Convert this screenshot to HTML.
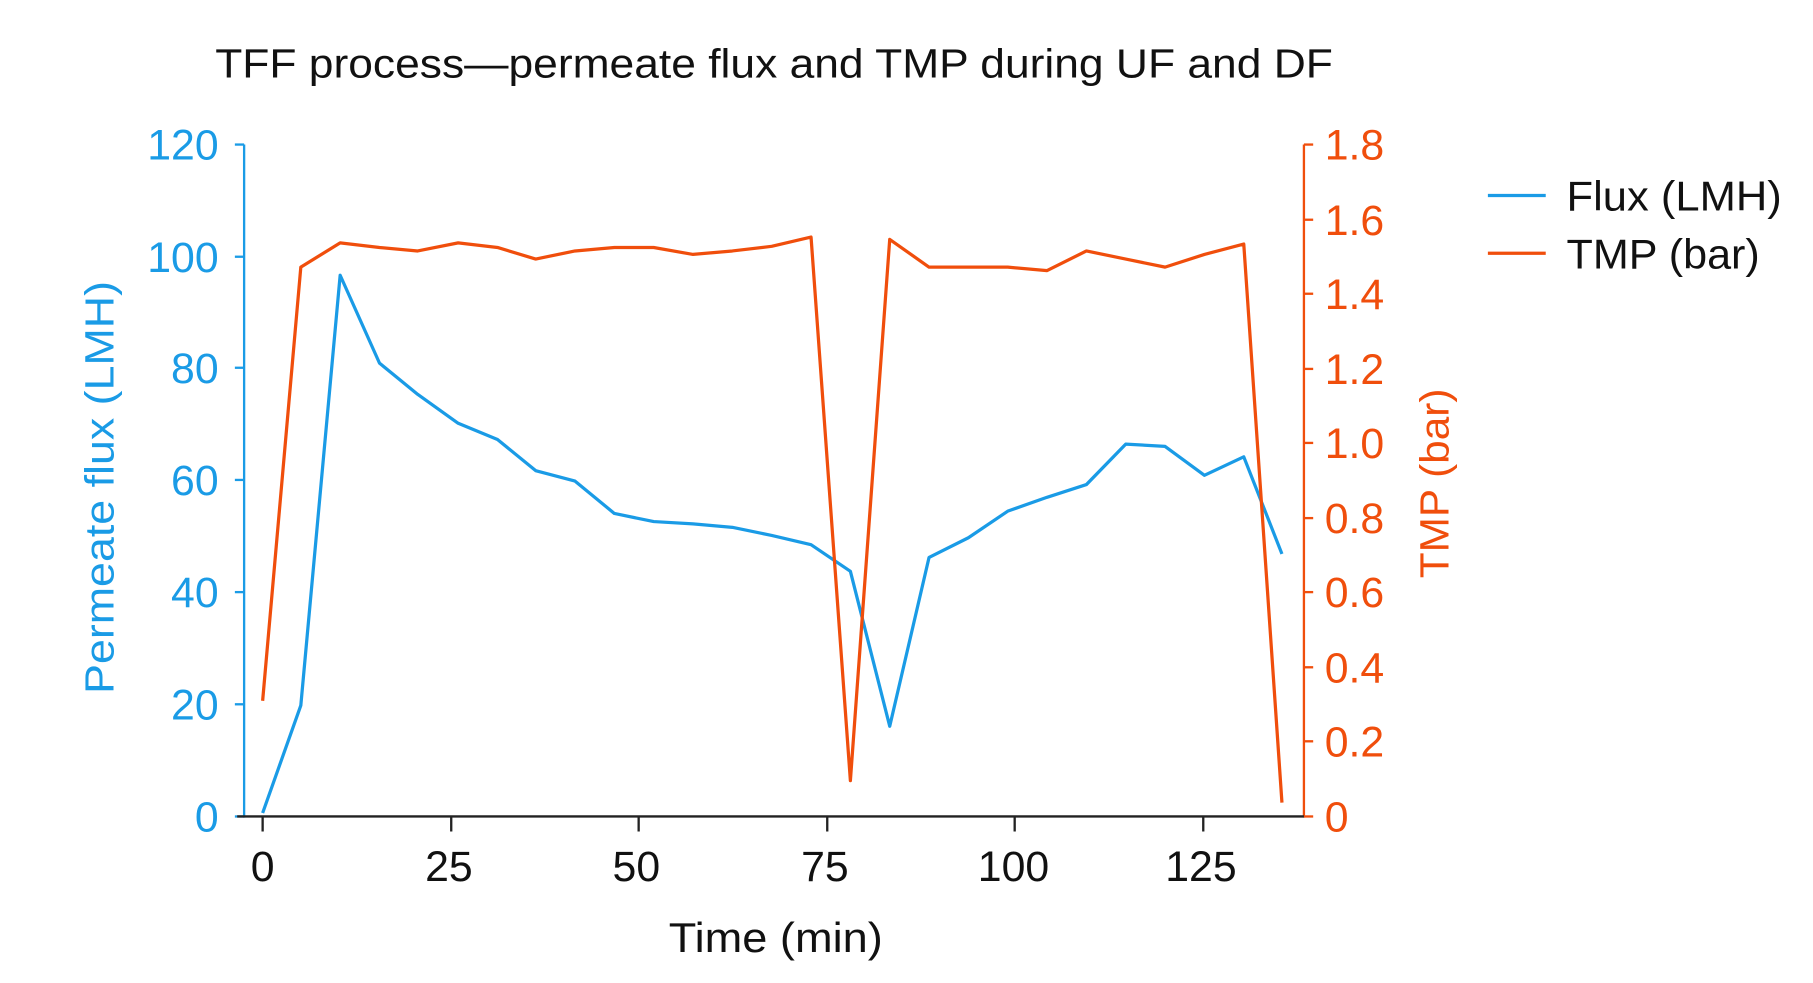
<!DOCTYPE html>
<html><head><meta charset="utf-8"><style>
html,body{margin:0;padding:0;background:#fff;}
svg{display:block;}
text{font-family:"Liberation Sans",sans-serif;}
</style></head><body>
<svg width="1813" height="983" viewBox="0 0 1567 850" preserveAspectRatio="none" xmlns="http://www.w3.org/2000/svg">
<rect width="1567" height="850" fill="#fff"/>
<text x="186" y="67" font-size="35" fill="#111" textLength="966" lengthAdjust="spacingAndGlyphs">TFF process—permeate flux and TMP during UF and DF</text>
<!-- left axis -->
<g stroke="#1a9be6" stroke-width="2">
<line x1="211" y1="125" x2="211" y2="707"/>
<line x1="203" y1="125" x2="211" y2="125"/>
<line x1="203" y1="222" x2="211" y2="222"/>
<line x1="203" y1="318" x2="211" y2="318"/>
<line x1="203" y1="415" x2="211" y2="415"/>
<line x1="203" y1="512" x2="211" y2="512"/>
<line x1="203" y1="609" x2="211" y2="609"/>
<line x1="203" y1="706" x2="211" y2="706"/>
</g>
<g fill="#1a9be6" font-size="37" text-anchor="end">
<text x="189" y="138">120</text><text x="189" y="235">100</text><text x="189" y="331">80</text>
<text x="189" y="428">60</text><text x="189" y="525">40</text><text x="189" y="622">20</text><text x="189" y="719">0</text>
</g>
<text transform="translate(98,600) rotate(-90)" font-size="35" fill="#1a9be6" textLength="357" lengthAdjust="spacingAndGlyphs">Permeate flux (LMH)</text>
<!-- right axis -->
<g stroke="#f04e0c" stroke-width="2">
<line x1="1127" y1="125" x2="1127" y2="707"/>
<line x1="1127" y1="125" x2="1135" y2="125"/>
<line x1="1127" y1="190" x2="1135" y2="190"/>
<line x1="1127" y1="254" x2="1135" y2="254"/>
<line x1="1127" y1="319" x2="1135" y2="319"/>
<line x1="1127" y1="383" x2="1135" y2="383"/>
<line x1="1127" y1="448" x2="1135" y2="448"/>
<line x1="1127" y1="512" x2="1135" y2="512"/>
<line x1="1127" y1="577" x2="1135" y2="577"/>
<line x1="1127" y1="641" x2="1135" y2="641"/>
<line x1="1127" y1="706" x2="1135" y2="706"/>
</g>
<g fill="#f04e0c" font-size="37">
<text x="1145" y="138">1.8</text><text x="1145" y="203">1.6</text><text x="1145" y="267">1.4</text>
<text x="1145" y="332">1.2</text><text x="1145" y="396">1.0</text><text x="1145" y="461">0.8</text>
<text x="1145" y="525">0.6</text><text x="1145" y="590">0.4</text><text x="1145" y="654">0.2</text><text x="1145" y="719">0</text>
</g>
<text transform="translate(1252,500) rotate(-90)" font-size="35" fill="#f04e0c" textLength="164" lengthAdjust="spacingAndGlyphs">TMP (bar)</text>
<!-- x axis -->
<g stroke="#222" stroke-width="2">
<line x1="205" y1="706" x2="1127" y2="706"/>
<line x1="227" y1="706" x2="227" y2="719"/>
<line x1="390" y1="706" x2="390" y2="719"/>
<line x1="552" y1="706" x2="552" y2="719"/>
<line x1="715" y1="706" x2="715" y2="719"/>
<line x1="877" y1="706" x2="877" y2="719"/>
<line x1="1040" y1="706" x2="1040" y2="719"/>
</g>
<g fill="#111" font-size="37" text-anchor="middle">
<text x="227" y="762">0</text><text x="388" y="762">25</text><text x="550" y="762">50</text>
<text x="713" y="762">75</text><text x="876" y="762">100</text><text x="1038" y="762">125</text>
</g>
<text x="578" y="823" font-size="36" fill="#111" textLength="185" lengthAdjust="spacingAndGlyphs">Time (min)</text>
<!-- series -->
<polyline fill="none" stroke="#1a9be6" stroke-width="2.8" stroke-linejoin="round" points="227,703 260,610 294,238 328,314 361,341 396,366 430,380 463,407 497,416 531,444 565,451 599,453 633,456 667,463 701,471 735,494 769,628 803,482 837,465 871,442 905,430 939,419 973,384 1007,386 1041,411 1075,395 1108,479"/>
<polyline fill="none" stroke="#f04e0c" stroke-width="2.8" stroke-linejoin="round" points="227,606 260,231 294,210 328,214 361,217 396,210 430,214 463,224 497,217 531,214 565,214 599,220 633,217 667,213 701,205 735,675 769,207 803,231 837,231 871,231 905,234 939,217 973,224 1007,231 1041,220 1075,211 1108,694"/>
<!-- legend -->
<line x1="1286" y1="169" x2="1336" y2="169" stroke="#1a9be6" stroke-width="2.8"/>
<line x1="1286" y1="219" x2="1336" y2="219" stroke="#f04e0c" stroke-width="2.8"/>
<g fill="#111" font-size="36">
<text x="1354" y="182" textLength="186" lengthAdjust="spacingAndGlyphs">Flux (LMH)</text>
<text x="1354" y="232" textLength="167" lengthAdjust="spacingAndGlyphs">TMP (bar)</text>
</g>
</svg>
</body></html>
